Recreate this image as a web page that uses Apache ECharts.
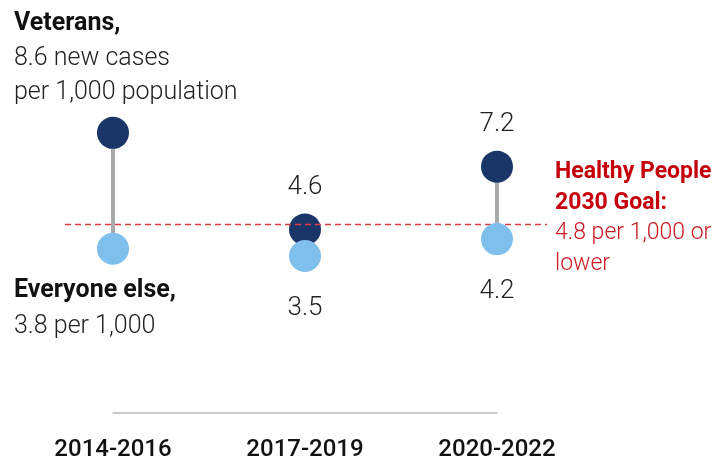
<!DOCTYPE html>
<html>
<head>
<meta charset="utf-8">
<script src="https://cdn.jsdelivr.net/npm/echarts@6/dist/echarts.min.js"></script>
<style>
  html, body { margin: 0; padding: 0; background: #fff; }
  #chart { width: 714px; height: 465px; }
</style>
</head>
<body>
<div id="chart"></div>
<script>
var periods = ['2014-2016', '2017-2019', '2020-2022'];
var veterans = [8.6, 4.6, 7.2];
var everyoneElse = [3.8, 3.5, 4.2];
var goalValue = 4.8;

var darkBlue = '#1a3668';
var lightBlue = '#7fbfec';
var red = '#c4000c';
var font = 'Roboto';

var chart = echarts.init(document.getElementById('chart'));

var option = {
  animation: false,
  grid: [
    { left: 113, right: 217, top: 99, bottom: 52 },
    // wider grid only for the goal line, so it runs past the outer dots
    { left: 65, right: 167, top: 99, bottom: 52 }
  ],
  xAxis: [
    {
      type: 'category',
      gridIndex: 0,
      data: periods,
      boundaryGap: false,
      axisLine: { onZero: false, lineStyle: { color: '#bbb', width: 1.5 } },
      axisTick: { show: false },
      axisLabel: {
        margin: 25,
        fontFamily: font,
        fontSize: 24,
        fontWeight: 500,
        color: '#111'
      }
    },
    { type: 'value', gridIndex: 1, min: 0, max: 1, show: false }
  ],
  yAxis: [
    { type: 'value', gridIndex: 0, min: -3, max: 10, show: false },
    { type: 'value', gridIndex: 1, min: -3, max: 10, show: false }
  ],
  series: [
    {
      // stems between the two dots
      type: 'custom',
      z: 1,
      data: periods.map(function (p, i) { return [i, veterans[i], everyoneElse[i]]; }),
      renderItem: function (params, api) {
        var a = api.coord([api.value(0), api.value(1)]);
        var b = api.coord([api.value(0), api.value(2)]);
        return {
          type: 'line',
          shape: { x1: a[0], y1: a[1], x2: b[0], y2: b[1] },
          style: { stroke: '#aaa', lineWidth: 4 }
        };
      }
    },
    {
      name: 'Veterans',
      type: 'scatter',
      z: 2,
      symbolSize: 32,
      itemStyle: { color: darkBlue, opacity: 1 },
      label: {
        position: 'top', distance: 13,
        fontFamily: font, fontSize: 26, fontWeight: 300, color: '#222'
      },
      data: veterans.map(function (v, i) { return { value: v, label: { show: i > 0 } }; })
    },
    {
      name: 'Goal',
      type: 'line',
      xAxisIndex: 1,
      yAxisIndex: 1,
      z: 3,
      symbol: 'none',
      silent: true,
      lineStyle: { color: '#dc3a40', width: 1.5, type: [6, 4] },
      data: [[0, goalValue], [1, goalValue]]
    },
    {
      name: 'Everyone else',
      type: 'scatter',
      z: 4,
      symbolSize: 32,
      itemStyle: { color: lightBlue, opacity: 1 },
      label: {
        position: 'bottom', distance: 23,
        fontFamily: font, fontSize: 26, fontWeight: 300, color: '#222'
      },
      data: everyoneElse.map(function (v, i) { return { value: v, label: { show: i > 0 } }; })
    }
  ],
  graphic: [
    { type: 'text', left: 14, top: 11, style: { text: 'Veterans,', font: 'bold 25px Roboto', fill: '#111' } },
    { type: 'text', left: 14, top: 8, style: { text: '\n8.6 new cases\nper 1,000 population', font: '300 25px Roboto', fill: '#222', lineHeight: 34 } },
    { type: 'text', left: 14, top: 278, style: { text: 'Everyone else,', font: 'bold 25px Roboto', fill: '#111' } },
    { type: 'text', left: 14, top: 276, style: { text: '\n3.8 per 1,000', font: '300 25px Roboto', fill: '#222', lineHeight: 34 } },
    { type: 'text', left: 555, top: 157, style: { text: 'Healthy People\n2030 Goal:', font: 'bold 23px Roboto', fill: red, lineHeight: 31 } },
    { type: 'text', left: 555, top: 218, style: { text: '4.8 per 1,000 or\nlower', font: '300 23px Roboto', fill: '#cc1820', lineHeight: 31 } }
  ]
};

chart.setOption(option);
</script>
</body>
</html>
